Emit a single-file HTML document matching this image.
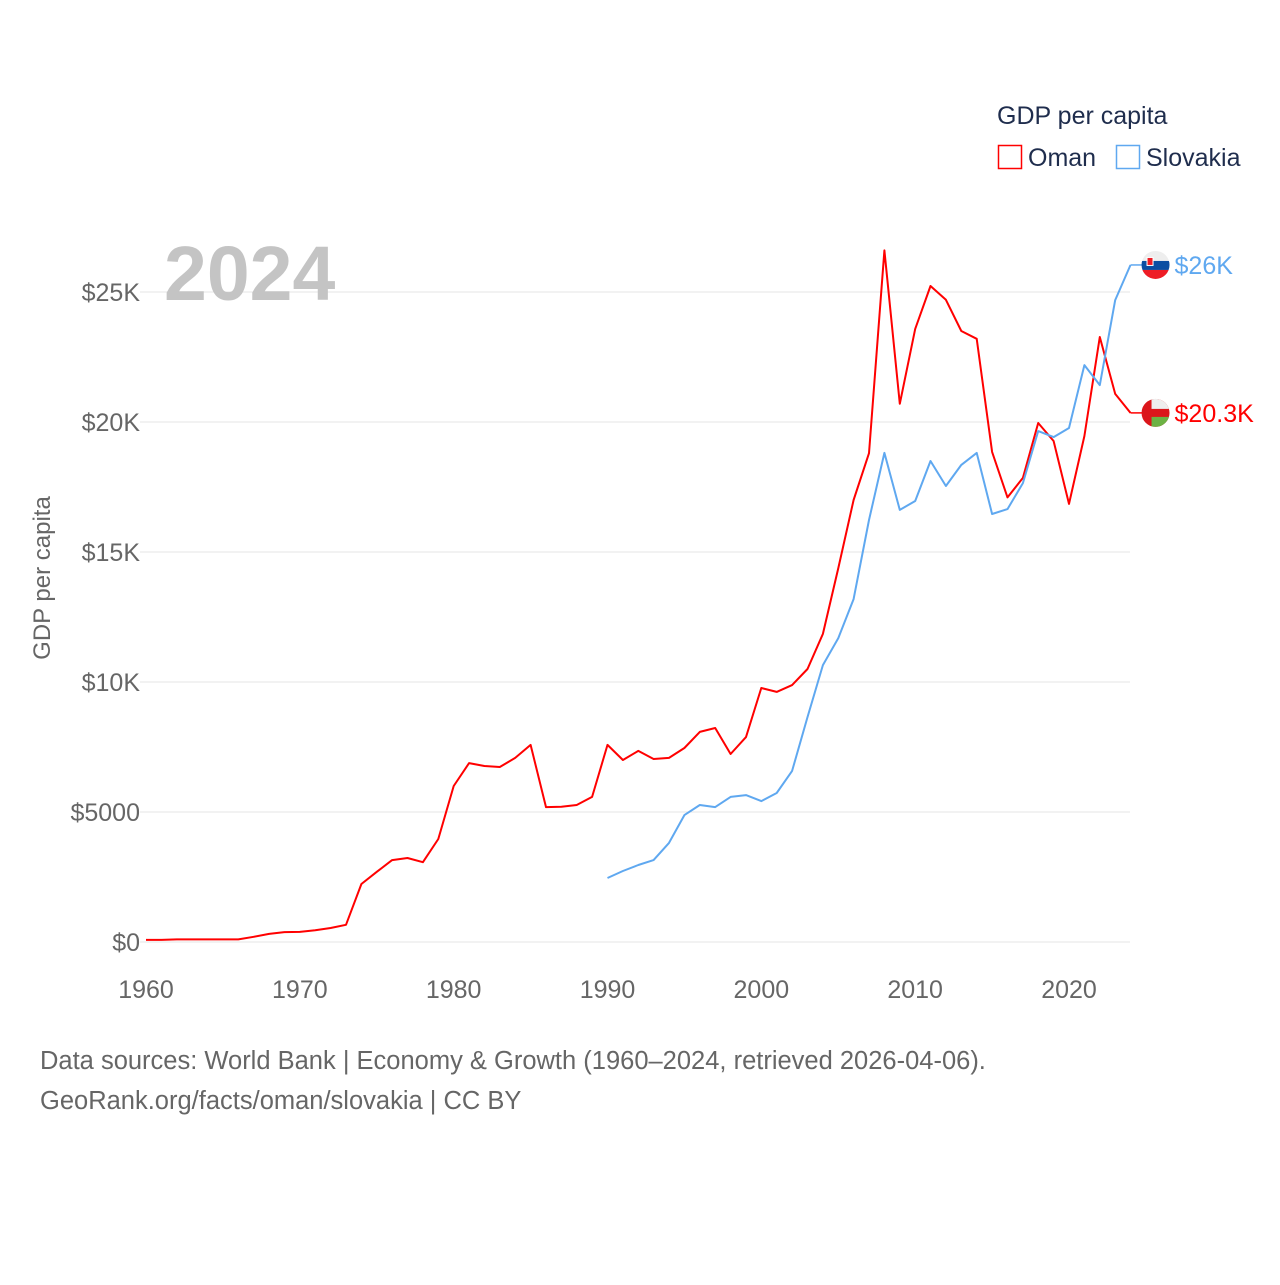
<!DOCTYPE html>
<html><head><meta charset="utf-8"><style>
body{margin:0;background:#fff;font-family:"Liberation Sans",sans-serif;}
svg text{font-family:"Liberation Sans",sans-serif;}
</style></head><body>
<svg width="1280" height="1280" viewBox="0 0 1280 1280">
<defs>
<clipPath id="cs"><circle cx="0" cy="0" r="14"/></clipPath>
</defs>
<g id="grid"></g>
<text x="164" y="300" font-size="77" font-weight="bold" fill="#c4c4c4">2024</text>
<text transform="translate(50,578) rotate(-90)" text-anchor="middle" font-size="24" fill="#666">GDP per capita</text>
<g id="lines"></g>
<g>
<text x="997" y="124" font-size="25" fill="#1f2d4d">GDP per capita</text>
<rect x="998.5" y="145.5" width="23" height="23" fill="none" stroke="#f00" stroke-width="1.5"/>
<text x="1028" y="166" font-size="25" fill="#1f2d4d">Oman</text>
<rect x="1116.5" y="145.5" width="23" height="23" fill="none" stroke="#5fa8f0" stroke-width="1.5"/>
<text x="1146" y="166" font-size="25" fill="#1f2d4d">Slovakia</text>
</g>
<text x="40" y="1069" font-size="25.5" fill="#666">Data sources: World Bank | Economy &amp; Growth (1960–2024, retrieved 2026-04-06).</text>
<text x="40" y="1109" font-size="25.5" fill="#666">GeoRank.org/facts/oman/slovakia | CC BY</text>
</svg>
<script>
const omanYears=[];for(let y=1960;y<=2024;y++)omanYears.push(y);
const omanValues=[80,80,100,100,100,100,100,200,310,380,390,450,540,660,2230,2700,3150,3230,3070,3960,6000,6880,6770,6730,7080,7580,5190,5200,5270,5580,7580,7000,7350,7040,7080,7460,8080,8230,7230,7880,9770,9620,9880,10500,11850,14380,17000,18800,26600,20700,23580,25230,24700,23500,23200,18850,17100,17850,19960,19270,16850,19460,23270,21080,20350];
const skYears=[];for(let y=1990;y<=2024;y++)skYears.push(y);
const skValues=[2460,2730,2960,3150,3810,4880,5270,5190,5580,5650,5420,5730,6580,8650,10650,11690,13190,16230,18810,16620,16960,18500,17540,18350,18810,16460,16650,17650,19650,19420,19770,22190,21420,24690,26040];
const yTicks=[0,5000,10000,15000,20000,25000];
const yTickLabels=["$0","$5000","$10K","$15K","$20K","$25K"];
const xTicks=[1960,1970,1980,1990,2000,2010,2020];
const NS="http://www.w3.org/2000/svg";
const xS=y=>146+(y-1960)*(1069-146)/60;
const yS=v=>942-v*(942-292)/25000;
function mk(t,a,p){const e=document.createElementNS(NS,t);for(const k in a)e.setAttribute(k,a[k]);p.appendChild(e);return e;}
const grid=document.getElementById('grid');
yTicks.forEach((v,i)=>{
 const l=mk('line',{x1:140,x2:1130,y1:yS(v),y2:yS(v),stroke:'#e6e6e6','stroke-width':1},grid);
 
 
 const t=mk('text',{x:140,y:yS(v)+9,'text-anchor':'end','font-size':25,fill:'#666'},grid);
 t.textContent=yTickLabels[i];
 
 
});
xTicks.forEach(y=>{
 const t=mk('text',{x:xS(y),y:998,'text-anchor':'middle','font-size':25,fill:'#666'},grid);
 t.textContent=y;
 
 
});
const lines=document.getElementById('lines');
function flag(g,name){
 if(name==='slovakia'){
  mk('rect',{x:-14,y:-14,width:28,height:10,fill:'#eee'},g);
  mk('rect',{x:-14,y:-4,width:28,height:9,fill:'#0b4ea2'},g);
  mk('rect',{x:-14,y:5,width:28,height:10,fill:'#ee1c25'},g);
  mk('rect',{x:-9,y:-8,width:7,height:9,fill:'#fff'},g);
  mk('rect',{x:-8,y:-7,width:5,height:7,fill:'#ee1c25'},g);
 } else {
  mk('rect',{x:-14,y:-14,width:28,height:28,fill:'#db161b'},g);
  mk('rect',{x:-4,y:-14,width:18,height:10,fill:'#eee'},g);
  mk('rect',{x:-4,y:4,width:18,height:10,fill:'#6cb244'},g);
 }
}
function series(years,vals,color,name,label){
 const d=years.map((y,i)=>(i?'L':'M')+xS(y).toFixed(1)+','+yS(vals[i]).toFixed(1)).join('');
 const p=mk('path',{d:d,fill:'none',stroke:color,'stroke-width':2,'stroke-linejoin':'round'},lines);
 
 
 const lx=xS(years[years.length-1]),ly=yS(vals[vals.length-1]);
 const cn=mk('line',{x1:lx,x2:lx+12,y1:ly,y2:ly,stroke:color,'stroke-width':1.5},lines);
 
 
 const g=mk('g',{transform:`translate(${lx+25},${ly})`,'clip-path':'url(#cs)'},lines);
 
 
 flag(g,name);
 const t=mk('text',{x:lx+44,y:ly+9,'font-size':25,fill:color},lines);
 t.textContent=label;
 
 
}
series(omanYears,omanValues,'#ff0000','oman','$20.3K');
series(skYears,skValues,'#5fa8f0','slovakia','$26K');
</script>
</body></html>
